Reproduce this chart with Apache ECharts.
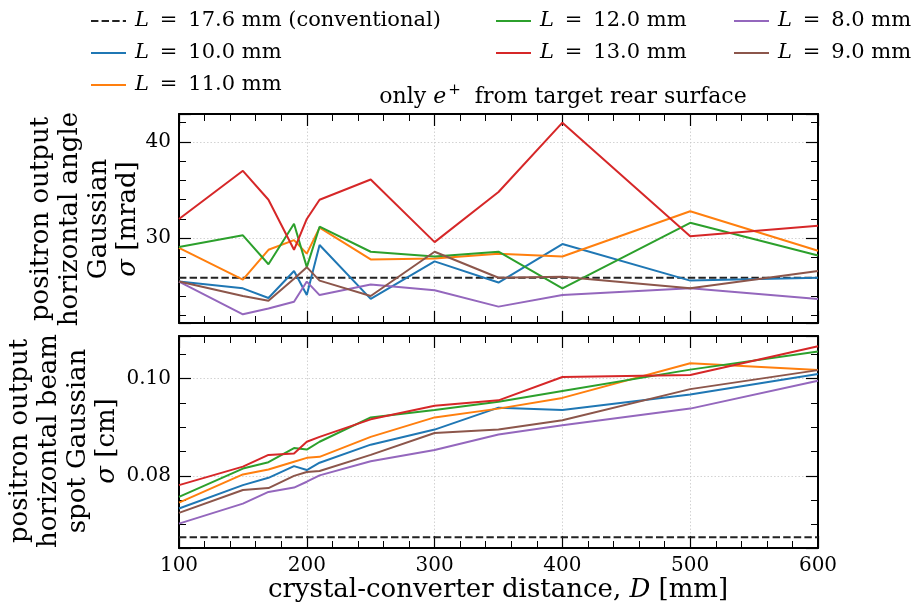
<!DOCTYPE html>
<html><head><meta charset="utf-8">
<script src="https://cdn.jsdelivr.net/npm/echarts@6/dist/echarts.min.js"></script>
<style>html,body{margin:0;padding:0;background:#fff}#c{width:912px;height:610px}</style>
</head><body><div id="c"></div>
<script>
// ---- data ----
const distances = [100, 150, 170, 190, 200, 210, 250, 300, 350, 400, 500, 600];
const seriesNames = ['L = 10.0 mm', 'L = 11.0 mm', 'L = 12.0 mm', 'L = 13.0 mm', 'L = 8.0 mm', 'L = 9.0 mm'];
const convName = 'L = 17.6 mm (conventional)';
// horizontal angle sigma [mrad]
const angle10 = [25.5, 24.8, 23.8, 26.6, 24.1, 29.3, 23.7, 27.6, 25.4, 29.4, 25.6, 25.9];
const angle11 = [29.0, 25.7, 28.8, 29.8, 28.4, 31.1, 27.8, 27.9, 28.4, 28.1, 32.8, 28.7];
const angle12 = [29.1, 30.3, 27.3, 31.5, 27.0, 31.2, 28.6, 28.1, 28.6, 24.8, 31.6, 28.2];
const angle13 = [32.0, 37.0, 34.0, 28.8, 32.0, 34.0, 36.1, 29.6, 34.8, 42.0, 30.2, 31.3];
const angle8  = [25.5, 22.1, 22.7, 23.4, 25.5, 24.1, 25.2, 24.6, 22.9, 24.1, 24.8, 23.7];
const angle9  = [25.5, 24.0, 23.5, 25.8, 27.0, 25.6, 24.0, 28.6, 25.9, 26.0, 24.8, 26.6];
const angleConv = 25.9;
// horizontal beam spot sigma [cm]
const spot10 = [0.0733, 0.0781, 0.0796, 0.0820, 0.0812, 0.0827, 0.0864, 0.0895, 0.0940, 0.0935, 0.0967, 0.1009];
const spot11 = [0.0745, 0.0803, 0.0813, 0.0829, 0.0837, 0.0839, 0.0880, 0.0920, 0.0938, 0.0960, 0.1031, 0.1017];
const spot12 = [0.0757, 0.0815, 0.0828, 0.0857, 0.0854, 0.0870, 0.0920, 0.0935, 0.0952, 0.0974, 0.1018, 0.1055];
const spot13 = [0.0781, 0.0819, 0.0843, 0.0846, 0.0870, 0.0880, 0.0916, 0.0944, 0.0955, 0.1003, 0.1007, 0.1066];
const spot8  = [0.0702, 0.0743, 0.0767, 0.0776, 0.0788, 0.0801, 0.0830, 0.0853, 0.0885, 0.0904, 0.0938, 0.0995];
const spot9  = [0.0724, 0.0771, 0.0775, 0.0800, 0.0808, 0.0810, 0.0843, 0.0888, 0.0895, 0.0914, 0.0978, 0.1017];
const spotConv = 0.0674;
const xTicks = [100, 200, 300, 400, 500, 600];

// ---- styling ----
const FONT = '"DejaVu Serif", serif';
const colors = ['#1f77b4', '#ff7f0e', '#2ca02c', '#d62728', '#9467bd', '#8c564b'];
const angleSets = [angle10, angle11, angle12, angle13, angle8, angle9];
const spotSets = [spot10, spot11, spot12, spot13, spot8, spot9];

const grids = [
  {left: 179, top: 114, width: 639, height: 209},
  {left: 179, top: 336, width: 639, height: 212}
];
const axisLineStyle = {show: true, onZero: false, lineStyle: {color: '#000', width: 2}};
const tickStyle = {show: true, inside: true, length: 12, lineStyle: {color: '#000', width: 1.2}};
const minorStyle = {show: true, splitNumber: 5, length: 7, lineStyle: {color: '#000', width: 1}};
const gridLine = {show: true, lineStyle: {color: '#c8c8c8', width: 0.8, type: [1.5, 2]}};

function xAx(gi, pos, labels) {
  return {
    type: 'value', gridIndex: gi, position: pos, min: xTicks[0], max: xTicks[xTicks.length - 1], interval: xTicks[1] - xTicks[0],
    axisLine: axisLineStyle, axisTick: tickStyle, minorTick: minorStyle,
    splitLine: pos === 'bottom' ? gridLine : {show: false},
    axisLabel: {show: labels, color: '#000', fontFamily: FONT, fontSize: 20, margin: 8}
  };
}
function yAx(gi, pos, mn, mx, minorSplit, fmt) {
  return {
    type: 'value', gridIndex: gi, position: pos, min: mn, max: mx, splitNumber: 2,
    axisLine: axisLineStyle, axisTick: tickStyle, minorTick: Object.assign({}, minorStyle, {splitNumber: minorSplit}),
    splitLine: pos === 'left' ? gridLine : {show: false},
    axisLabel: {show: pos === 'left', color: '#000', fontFamily: FONT, fontSize: 20, margin: 8,
      showMinLabel: false, showMaxLabel: false, formatter: fmt}
  };
}

const series = [];
function addPanel(gi, sets, conv) {
  series.push({
    name: convName, type: 'line', xAxisIndex: gi * 2, yAxisIndex: gi * 2, symbol: 'none',
    data: [[xTicks[0], conv], [xTicks[xTicks.length - 1], conv]],
    lineStyle: {color: '#222', width: 2, type: [7.4, 3.2]}, itemStyle: {color: '#222'}, z: 2
  });
  sets.forEach((vals, i) => {
    series.push({
      name: seriesNames[i], type: 'line', xAxisIndex: gi * 2, yAxisIndex: gi * 2, symbol: 'none',
      data: distances.map((d, k) => [d, vals[k]]),
      lineStyle: {color: colors[i], width: 2}, itemStyle: {color: colors[i]}, z: 3 + i
    });
  });
}
addPanel(0, angleSets, angleConv);
addPanel(1, spotSets, spotConv);

const legendRich = {
  i: {fontFamily: FONT, fontSize: 21, fontStyle: 'italic', color: '#000', padding: [0, 0, 0, 4]},
  t: {fontFamily: FONT, fontSize: 21, color: '#000'}
};
function legend(left, names) {
  return {
    left: left, top: 5, orient: 'vertical', itemWidth: 35, itemHeight: 14, itemGap: 10,
    data: names, selectedMode: false,
    itemStyle: {opacity: 0, borderWidth: 0},
    formatter: n => '{i|L}{t|' + n.slice(1).replace(' = ', ' \u2009=\u2009 ') + '}',
    textStyle: {fontFamily: FONT, fontSize: 21, lineHeight: 22, rich: legendRich}
  };
}

const labRich = {
  t: {fontFamily: FONT, fontSize: 26, color: '#000', lineHeight: 29},
  i: {fontFamily: FONT, fontSize: 26, color: '#000', fontStyle: 'italic', lineHeight: 29}
};

const option = {
  animation: false,
  backgroundColor: '#fff',
  grid: grids,
  xAxis: [xAx(0, 'bottom', false), xAx(0, 'top', false), xAx(1, 'bottom', true), xAx(1, 'top', false)],
  yAxis: [
    yAx(0, 'left', 21.2, 42.9, 5, v => String(Math.round(v))),
    yAx(0, 'right', 21.2, 42.9, 5, v => String(Math.round(v))),
    yAx(1, 'left', 0.0652, 0.1087, 4, v => v.toFixed(2)),
    yAx(1, 'right', 0.0652, 0.1087, 4, v => v.toFixed(2))
  ],
  legend: [
    legend(85, [convName, seriesNames[0], seriesNames[1]]),
    legend(490, [seriesNames[2], seriesNames[3]]),
    legend(728, [seriesNames[4], seriesNames[5]])
  ],
  series: series,
  graphic: [
    {type: 'text', x: 563, y: 97, style: {
      text: '{t|only }{i|e}{s|+}{t|  from target rear surface}', align: 'center', verticalAlign: 'middle',
      rich: {
        t: {fontFamily: FONT, fontSize: 22, color: '#000'},
        i: {fontFamily: FONT, fontSize: 22, color: '#000', fontStyle: 'italic'},
        s: {fontFamily: FONT, fontSize: 15, color: '#000', padding: [0, 0, 14, 2]}
      }}},
    {type: 'text', x: 498, y: 590, style: {
      text: '{t|crystal-converter distance, }{i|D}{t| [mm]}', align: 'center', verticalAlign: 'middle',
      rich: labRich}},
    {type: 'text', x: 85, y: 219, rotation: Math.PI / 2, style: {
      text: '{t|positron output}\n{t|horizontal angle}\n{t|Gaussian}\n{i|σ}{t| [mrad]}', align: 'center', verticalAlign: 'middle',
      rich: labRich}},
    {type: 'text', x: 64, y: 441, rotation: Math.PI / 2, style: {
      text: '{t|positron output}\n{t|horizontal beam}\n{t|spot Gaussian}\n{i|σ}{t| [cm]}', align: 'center', verticalAlign: 'middle',
      rich: labRich}}
  ]
};
const chart = echarts.init(document.getElementById('c'), null, {renderer: 'canvas'});
chart.setOption(option);
</script>
</body></html>
